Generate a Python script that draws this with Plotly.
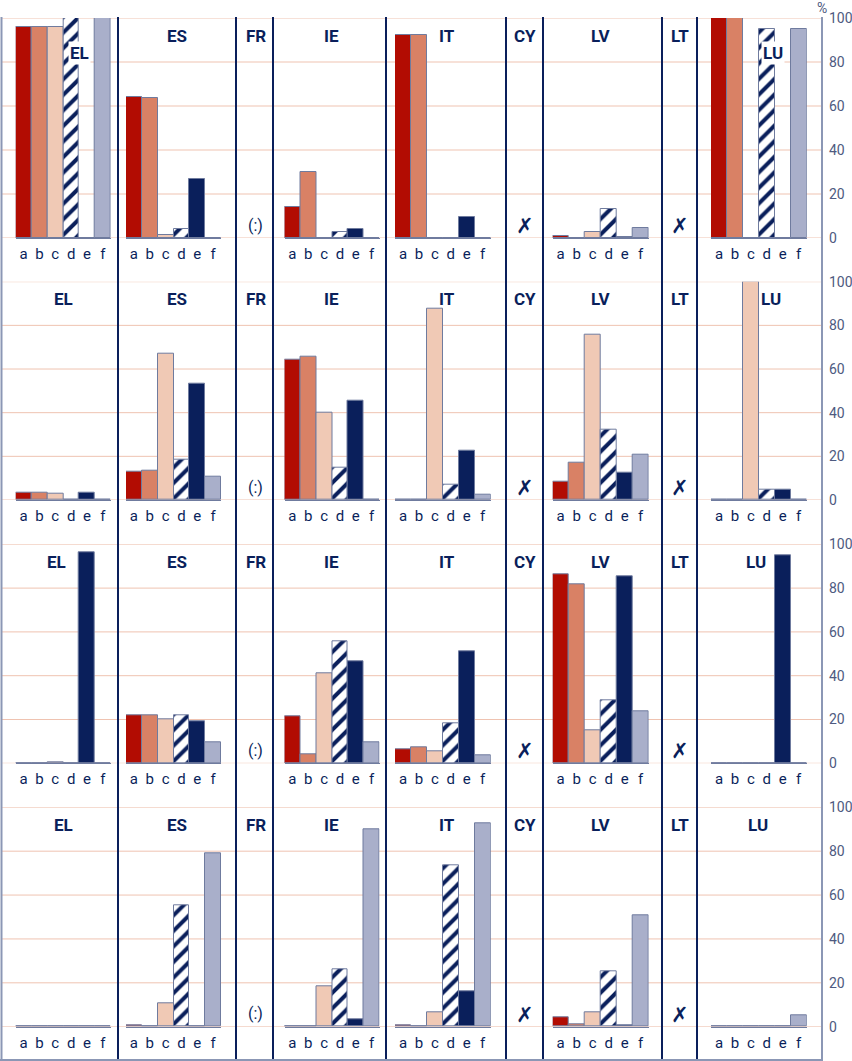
import plotly.graph_objects as go

# ---------------- data ----------------
categories = ['a', 'b', 'c', 'd', 'e', 'f']
hatched_category = 'd'
columns = ['EL', 'ES', 'FR', 'IE', 'IT', 'CY', 'LV', 'LT', 'LU']
data_countries = ['EL', 'ES', 'IE', 'IT', 'LV', 'LU']
missing_marks = {'FR': '(:)', 'CY': '✗', 'LT': '✗'}

# values (%) per row, in data_countries order, each list = categories a..f
row1 = [
    [96, 96, 96, 100, 0, 100],      # EL
    [64, 63.5, 1.2, 4, 27, 0],      # ES
    [14, 30, 0, 2.6, 4.1, 0],       # IE
    [92.3, 92.3, 0, 0, 9.7, 0],     # IT
    [0.9, 0, 2.6, 13, 0.6, 4.4],    # LV
    [100, 100, 0, 94.8, 0, 95],     # LU
]
row2 = [
    [3.5, 3.5, 3, 0, 3.5, 0],
    [12.8, 13.3, 67.2, 18.3, 53.1, 10.8],
    [64.1, 65.8, 40.2, 14.8, 45.6, 0],
    [0, 0, 87.8, 7.0, 22.7, 2.6],
    [8.2, 16.9, 75.9, 32.4, 12.5, 20.6],
    [0, 0, 100, 4.9, 4.9, 0],
]
row3 = [
    [0, 0, 0.5, 0, 96.3, 0],
    [22.1, 22.1, 20.1, 22.1, 19.2, 9.7],
    [21.5, 4.1, 41.2, 55.7, 46.6, 9.7],
    [6.5, 7.3, 5.6, 18.4, 51.0, 3.7],
    [86.3, 81.7, 15.1, 28.8, 85.5, 23.7],
    [0, 0, 0, 0, 95, 0],
]
row4 = [
    [0, 0, 0, 0, 0, 0],
    [0.6, 0, 10.6, 55.3, 0, 79],
    [0, 0, 18.4, 26.1, 3.5, 90],
    [0.6, 0, 6.5, 73.6, 16.3, 92.7],
    [4.3, 1.1, 6.5, 25.2, 0.8, 50.8],
    [0, 0, 0, 0, 0, 5.2],
]
rows = [row1, row2, row3, row4]
y_ticks = [0, 20, 40, 60, 80, 100]

# ---------------- layout constants ----------------
W, H = 852, 1061
def px(x):
    return x / W
def py(y):
    return 1 - y / H

FONT = 'Roboto, Liberation Sans, sans-serif'
NAVY = '#0A1F5B'
SLATE = '#8B97B5'
PINK = '#EFC3B1'
OUTLINE = '#6F7B9E'
TICKCOL = '#4E5A80'
cat_colors = {'a': '#B20C02', 'b': '#D98165', 'c': '#F0C9B5',
              'd': '#FFFFFF', 'e': '#0A1F5B', 'f': '#A9AFCA'}

row_tops = [18, 281.7, 544.3, 807.3]
row_bases = [238, 500, 763.3, 1026.7]
bar_spans = {'EL': (15.7, 110.7), 'ES': (126, 221), 'IE': (284.5, 379.5),
             'IT': (395, 490.7), 'LV': (552.7, 648.7), 'LU': (711, 806.7)}
label_x = {'EL': 63, 'ES': 177, 'FR': 255.5, 'IE': 331, 'IT': 447,
           'CY': 524.5, 'LV': 601, 'LT': 680, 'LU': 758}
# per-row label position overrides (row index, country) -> (x, y)
label_override = {(0, 'EL'): (79, 53), (0, 'LU'): (773, 53),
                  (1, 'LU'): (771, None), (2, 'EL'): (57, None),
                  (2, 'LU'): (756, None)}
separators = [118, 236, 273, 386, 506, 543, 662, 697]

fig = go.Figure()
layout_axes = {}
shapes = []
annotations = []

n = 0
for r, rowvals in enumerate(rows):
    first_y = None
    for c, country in enumerate(data_countries):
        n += 1
        xid = 'x' if n == 1 else f'x{n}'
        yid = 'y' if n == 1 else f'y{n}'
        xkey = 'xaxis' if n == 1 else f'xaxis{n}'
        ykey = 'yaxis' if n == 1 else f'yaxis{n}'
        if first_y is None:
            first_y = yid
        vals = rowvals[c]
        plain_x = [k for k in categories if k != hatched_category]
        plain_y = [v for k, v in zip(categories, vals) if k != hatched_category]
        hatch_y = [v for k, v in zip(categories, vals) if k == hatched_category]
        fig.add_trace(go.Bar(
            x=plain_x, y=plain_y, xaxis=xid, yaxis=yid,
            marker=dict(color=[cat_colors[k] for k in plain_x],
                        line=dict(color=OUTLINE, width=1)),
            hoverinfo='skip', showlegend=False))
        fig.add_trace(go.Bar(
            x=[hatched_category], y=hatch_y, xaxis=xid, yaxis=yid,
            marker=dict(color='white',
                        line=dict(color=OUTLINE, width=1),
                        pattern=dict(shape='/', fgcolor=NAVY, bgcolor='white',
                                     fgopacity=1, fillmode='replace',
                                     size=11, solidity=0.36)),
            hoverinfo='skip', showlegend=False))
        x0, x1 = bar_spans[country]
        layout_axes[xkey] = dict(
            domain=[px(x0), px(x1)], anchor=yid, type='category',
            categoryorder='array', categoryarray=categories,
            range=[-0.5, 5.5], tickmode='array', tickvals=categories,
            ticktext=categories, showgrid=False, zeroline=False,
            showline=True, linecolor=OUTLINE, linewidth=1,
            ticks='', ticklabelstandoff=2, automargin=False,
            tickfont=dict(family=FONT, size=15, color=NAVY),
            fixedrange=True)
        ydict = dict(
            domain=[py(row_bases[r]), py(row_tops[r])], range=[0, 100],
            showgrid=False, zeroline=False, fixedrange=True, automargin=False)
        if country == 'LU':
            ydict.update(anchor='free', position=px(822), side='right',
                         tickmode='array', tickvals=y_ticks, ticks='',
                         showline=False, ticklabelstandoff=6,
                         tickfont=dict(family=FONT, size=14, color=TICKCOL))
        else:
            ydict.update(anchor=xid, showticklabels=False, ticks='', showline=False)
        layout_axes[ykey] = ydict

    # gridlines for the row (full width, below everything)
    for v in y_ticks:
        shapes.append(dict(type='line', xref='paper', yref=first_y,
                           x0=px(2), x1=px(822), y0=v, y1=v,
                           line=dict(color=PINK, width=1), layer='below'))

    # country labels
    for country in columns:
        lx = label_x[country]
        ly = row_tops[r] + 17.5
        bg = None
        if (r, country) in label_override:
            ox, oy = label_override[(r, country)]
            lx = ox
            if oy is not None:
                ly, bg = oy, 'white'
        ann = dict(x=px(lx), y=py(ly), xref='paper', yref='paper',
                   text=f'<b>{country}</b>', showarrow=False,
                   font=dict(family=FONT, size=17, color=NAVY),
                   xanchor='center', yanchor='middle')
        if bg:
            ann.update(bgcolor=bg, borderpad=1)
        annotations.append(ann)

    # missing data markers
    for country, mark in missing_marks.items():
        if mark == '(:)':
            my = row_bases[r] - 13
            fnt = dict(family=FONT, size=16, color=NAVY)
            txt = mark
        else:
            my = row_bases[r] - 12
            fnt = dict(family='DejaVu Sans', size=21, color=NAVY)
            txt = f'<b>{mark}</b>'
        annotations.append(dict(x=px(label_x[country]), y=py(my),
                                xref='paper', yref='paper', text=txt,
                                showarrow=False, font=fnt,
                                xanchor='center', yanchor='middle'))

# separators and frame
for sx in separators:
    shapes.append(dict(type='line', xref='paper', yref='paper',
                       x0=px(sx), x1=px(sx), y0=py(17), y1=py(1061),
                       line=dict(color=NAVY, width=2), layer='above'))
shapes.append(dict(type='line', xref='paper', yref='paper',
                   x0=px(1.5), x1=px(1.5), y0=py(17), y1=py(1061),
                   line=dict(color=SLATE, width=2), layer='above'))
shapes.append(dict(type='line', xref='paper', yref='paper',
                   x0=px(822), x1=px(822), y0=py(17), y1=py(1061),
                   line=dict(color=SLATE, width=2), layer='above'))
shapes.append(dict(type='line', xref='paper', yref='paper',
                   x0=px(0), x1=px(822), y0=py(1060), y1=py(1060),
                   line=dict(color=SLATE, width=2), layer='above'))

annotations.append(dict(x=px(822), y=py(8), xref='paper', yref='paper',
                        text='%', showarrow=False,
                        font=dict(family=FONT, size=14, color=TICKCOL),
                        xanchor='center', yanchor='middle'))

fig.update_layout(
    template='none',
    width=W, height=H, autosize=False,
    margin=dict(l=0, r=0, t=0, b=0, pad=0, autoexpand=False),
    paper_bgcolor='white', plot_bgcolor='rgba(0,0,0,0)',
    bargap=0, barmode='overlay', showlegend=False,
    shapes=shapes, annotations=annotations,
    **layout_axes)

post = ("document.documentElement.style.margin='0';"
        "document.body.style.margin='0';")

fig.write_html('out.html', config={'displayModeBar': False},
               post_script=post)
